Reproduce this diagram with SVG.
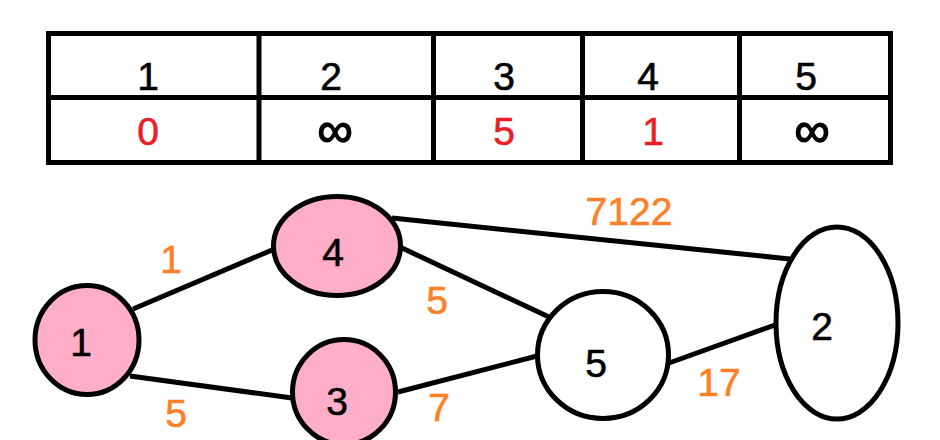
<svg xmlns="http://www.w3.org/2000/svg" width="940" height="440" viewBox="0 0 940 440">
<style>
.t{font-family:"Liberation Sans",Arial,sans-serif;font-size:39px;text-anchor:middle;stroke-width:0.6}
.k{fill:#000;stroke:#000}
.r{fill:#ED1C24;stroke:#ED1C24}
.o{fill:#FF7F27;stroke:#FF7F27}
.inf{font-size:50px;stroke-width:1.4}
.ln{stroke:#000;stroke-width:5;fill:none}
.pk{fill:#FFAEC9;stroke:#000;stroke-width:5}
.wh{fill:#fff;stroke:#000;stroke-width:5}
</style>
<rect width="940" height="440" fill="#fff"/>
<g id="table">
<rect x="48.5" y="33.5" width="842" height="129" class="ln"/>
<line x1="48.5" y1="97.5" x2="890.5" y2="97.5" class="ln"/>
<line x1="259" y1="33.5" x2="259" y2="162.5" class="ln"/>
<line x1="433.5" y1="33.5" x2="433.5" y2="162.5" class="ln"/>
<line x1="582.5" y1="33.5" x2="582.5" y2="162.5" class="ln"/>
<line x1="739.5" y1="33.5" x2="739.5" y2="162.5" class="ln"/>
<text class="t k" x="148" y="90">1</text>
<text class="t k" x="331" y="90">2</text>
<text class="t k" x="504" y="90">3</text>
<text class="t k" x="648" y="90">4</text>
<text class="t k" x="806" y="90">5</text>
<text class="t r" x="148" y="145">0</text>
<text class="t k inf" x="335" y="147">∞</text>
<text class="t r" x="504" y="145">5</text>
<text class="t r" x="653" y="145">1</text>
<text class="t k inf" x="812" y="147">∞</text>
</g>
<g id="connectors">
<line x1="133" y1="309" x2="272" y2="250" class="ln"/>
<line x1="130" y1="376" x2="292" y2="398" class="ln"/>
<line x1="392" y1="218" x2="790" y2="259" class="ln"/>
<line x1="402" y1="248" x2="549" y2="317" class="ln"/>
<line x1="398" y1="392" x2="537" y2="356" class="ln"/>
<line x1="669" y1="363" x2="775" y2="325" class="ln"/>
<text class="t o" x="171" y="273">1</text>
<text class="t o" x="176" y="427">5</text>
<text class="t o" x="437" y="314">5</text>
<text class="t o" x="439" y="421">7</text>
<text class="t o" x="629" y="225">7122</text>
<text class="t o" x="719" y="396">17</text>
</g>
<g id="node1"><ellipse cx="87" cy="340" rx="52" ry="54.5" class="pk"/><text class="t k" x="81" y="356">1</text></g>
<g id="node4"><ellipse cx="337" cy="246" rx="63.5" ry="49.5" class="pk"/><text class="t k" x="333" y="266">4</text></g>
<g id="node3"><ellipse cx="344" cy="392" rx="51.5" ry="52.5" class="pk"/><text class="t k" x="337" y="415">3</text></g>
<g id="node5"><ellipse cx="603" cy="355" rx="65.5" ry="63.5" class="wh"/><text class="t k" x="596" y="377">5</text></g>
<g id="node2"><ellipse cx="837" cy="323" rx="61" ry="96" class="wh"/><text class="t k" x="822" y="340">2</text></g>
</svg>
